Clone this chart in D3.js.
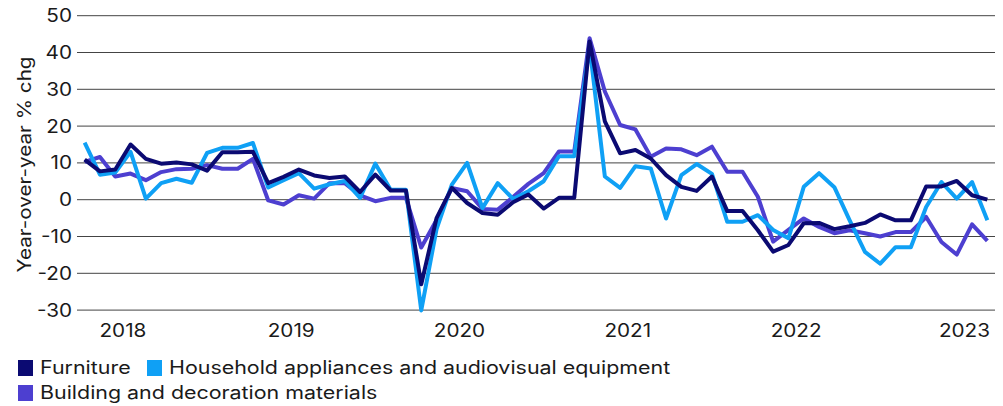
<!DOCTYPE html>
<html>
<head>
<meta charset="utf-8">
<script src="https://cdn.jsdelivr.net/npm/d3@7/dist/d3.min.js"></script>
<style>
  html, body { margin: 0; padding: 0; background: #fff; }
  svg { display: block; }
  text { font-family: Inter, "DejaVu Sans", sans-serif; fill: #1a1a1a; }
</style>
</head>
<body>
<svg id="chart" width="1003" height="406"></svg>
<script>
// Monthly data, Jan-Feb 2018 (combined) through Jun 2023 (11 points per year)
const periods = d3.range(60);
const furniture = [10.9, 7.7, 8.2, 15.0, 11.1, 9.8, 10.1, 9.6, 7.9, 12.9, 12.9, 13.0,
  4.5, 6.2, 8.2, 6.6, 5.9, 6.3, 2.1, 6.8, 2.5, 2.5, -23.0, -5.0,
  3.2, -0.9, -3.6, -4.1, -0.7, 1.4, -2.4, 0.5, 0.5, 43.0, 21.3, 12.6,
  13.5, 11.2, 6.7, 3.5, 2.4, 6.3, -3.1, -3.1, -8.3, -14.1, -12.3, -6.4,
  -6.3, -8.0, -7.2, -6.3, -4.0, -5.6, -5.6, 3.6, 3.6, 5.1, 1.2, 0.0];
const appliances = [15.5, 6.8, 7.4, 13.0, 0.3, 4.5, 5.7, 4.6, 12.7, 14.1, 14.1, 15.4,
  3.3, 5.3, 7.2, 3.0, 4.2, 5.1, 0.5, 9.8, 2.7, 2.7, -30.1, -8.0,
  4.1, 10.0, -2.3, 4.5, 0.2, 2.3, 5.0, 11.8, 11.8, 41.7, 6.3, 3.2,
  9.1, 8.5, -5.1, 6.7, 9.7, 7.0, -6.0, -6.0, -4.2, -8.2, -10.5, 3.5,
  7.2, 3.4, -5.6, -14.2, -17.4, -12.9, -12.9, -2.0, 4.8, 0.3, 4.8, -5.6];
const building = [10.3, 11.6, 6.3, 7.1, 5.3, 7.5, 8.3, 8.4, 9.4, 8.4, 8.4, 11.1,
  -0.2, -1.3, 1.2, 0.3, 4.5, 4.5, 1.2, -0.4, 0.5, 0.5, -13.0, -5.5,
  3.2, 2.3, -2.5, -2.7, 0.7, 4.3, 7.2, 13.1, 13.1, 43.9, 29.4, 20.3,
  19.1, 11.7, 13.9, 13.7, 12.1, 14.4, 7.6, 7.6, 0.8, -11.4, -8.2, -5.1,
  -7.4, -9.1, -8.3, -9.1, -10.0, -8.8, -8.8, -4.7, -11.5, -14.9, -6.7, -11.2];
const yearLabels = ["2018", "2019", "2020", "2021", "2022", "2023"];
const yTicks = [50, 40, 30, 20, 10, 0, -10, -20, -30];
const seriesNames = ["Furniture", "Household appliances and audiovisual equipment", "Building and decoration materials"];
const seriesColors = ["#0b0a72", "#0fa0f5", "#4d3fd0"];

const svg = d3.select("#chart");
const pointsPerYear = 11;
const FS = 18;
const SX = 1.15;  // horizontal stretch to mimic the wide typeface
const SXL = 1.19; // legend stretch

const x = d3.scaleLinear().domain([-0.5, periods.length - 0.5]).range([77, 995]);
const y = d3.scaleLinear().domain([-30, 50]).range([310.1, 15.7]);

// gridlines
svg.append("g").selectAll("line").data(yTicks).join("line")
  .attr("x1", x.range()[0]).attr("x2", x.range()[1])
  .attr("y1", d => y(d)).attr("y2", d => y(d))
  .attr("stroke", "#444").attr("stroke-width", 1);

// y labels
svg.append("g").selectAll("text").data(yTicks).join("text")
  .attr("transform", d => `translate(72,${y(d)}) scale(${SX},1)`)
  .attr("dy", "0.36em")
  .attr("text-anchor", "end").attr("font-size", FS)
  .text(d => d);

// y title
svg.append("text")
  .attr("transform", `translate(25,164.5) rotate(-90) scale(${SX},1)`)
  .attr("text-anchor", "middle").attr("dy", "0.36em")
  .attr("font-size", FS)
  .text("Year-over-year % chg");

// x labels
svg.append("g").selectAll("text").data(yearLabels).join("text")
  .attr("transform", (d, i) => `translate(${x(i * pointsPerYear + 2.5)},331) scale(${SX},1)`)
  .attr("dy", "0.36em")
  .attr("text-anchor", "middle").attr("font-size", FS)
  .text(d => d);

// lines
const line = d3.line().x((d, i) => x(periods[i])).y(d => y(d));
const drawOrder = [2, 1, 0];
const allSeries = [furniture, appliances, building];
drawOrder.forEach(k => {
  svg.append("path").datum(allSeries[k])
    .attr("d", line).attr("fill", "none")
    .attr("stroke", seriesColors[k]).attr("stroke-width", 4)
    .attr("stroke-linejoin", "round").attr("stroke-linecap", "butt");
});

// legend
const legendItems = [
  {k: 0, x: 18, y: 368},
  {k: 1, x: 147, y: 368},
  {k: 2, x: 18, y: 393}
];
const lg = svg.append("g");
legendItems.forEach(it => {
  lg.append("rect").attr("x", it.x).attr("y", it.y - 8).attr("width", 15).attr("height", 16)
    .attr("fill", seriesColors[it.k]);
  lg.append("text")
    .attr("transform", `translate(${it.x + 22},${it.y}) scale(${SXL},1)`)
    .attr("dy", "0.36em")
    .attr("font-size", FS).text(seriesNames[it.k]);
});
</script>
</body>
</html>
